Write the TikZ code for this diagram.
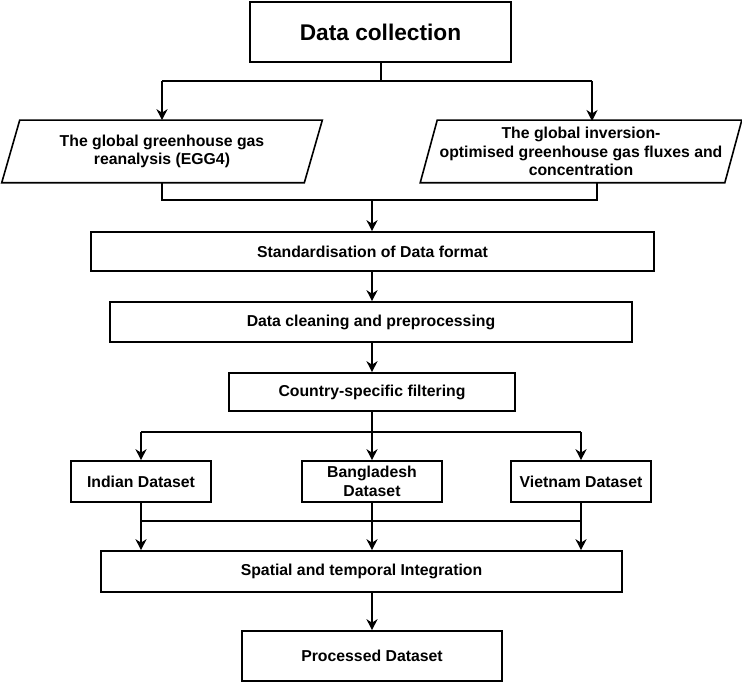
\documentclass[tikz,border=0pt]{standalone}
\usepackage{fontspec}
\setmainfont{Liberation Sans}
\usetikzlibrary{arrows.meta}
\begin{document}
\begin{tikzpicture}[x=1pt,y=-1pt, line width=1.6pt,
  box/.style={draw=black, line width=1.6pt, inner sep=0pt, align=center,
    font=\fontsize{15.8}{18.5}\selectfont\bfseries},
  para/.style={inner sep=0pt, align=center,
    font=\fontsize{15.8}{18.5}\selectfont\bfseries},
  pline/.style={line width=1.6pt, line join=miter},
  arr/.style={-{Stealth[length=11pt,width=11pt,inset=3.5pt]}, line width=1.6pt}
]
\useasboundingbox (0,0) rectangle (742,682);
% nodes
\node[box, minimum width=261pt, minimum height=60pt, font=\fontsize{22.7}{26}\selectfont\bfseries] (dc) at (380.5,32) {Data collection};
\node[para, minimum width=301pt, minimum height=61pt] (p1) at (162,151.5) {The global greenhouse gas\\reanalysis (EGG4)};
\draw[pline] ([xshift=9pt]p1.north west) -- ([xshift=9pt]p1.north east) -- ([xshift=-9pt]p1.south east) -- ([xshift=-9pt]p1.south west) -- cycle;
\node[para, minimum width=303pt, minimum height=61pt] (p2) at (581,151.5) {The global inversion-\\optimised greenhouse gas fluxes and\\concentration};
\draw[pline] ([xshift=8.5pt]p2.north west) -- ([xshift=8.5pt]p2.north east) -- ([xshift=-8.5pt]p2.south east) -- ([xshift=-8.5pt]p2.south west) -- cycle;
\node[box, minimum width=563pt, minimum height=39pt] (std) at (372.5,251.5) {Standardisation of Data format};
\node[box, minimum width=522pt, minimum height=40pt] (clean) at (371,322) {Data cleaning and preprocessing};
\node[box, minimum width=286pt, minimum height=38pt] (cty) at (372,392) {Country-specific filtering};
\node[box, minimum width=140pt, minimum height=41pt] (ind) at (141,481.5) {Indian Dataset};
\node[box, minimum width=140pt, minimum height=41pt] (bgd) at (372,481.5) {Bangladesh\\Dataset};
\node[box, minimum width=140pt, minimum height=41pt] (vnm) at (581,481.5) {Vietnam Dataset};
\node[box, minimum width=521pt, minimum height=41pt] (integ) at (361.5,571.5) {Spatial and temporal Integration};
\node[box, minimum width=260pt, minimum height=50pt] (proc) at (372,656) {Processed Dataset};
% junction coordinates
\coordinate (j1) at (381,81);
\coordinate (j2) at (372,200);
\coordinate (j3) at (372,432);
\coordinate (j4) at (0,521);
\coordinate (p2in) at (592,121);
\coordinate (p2out) at (597,182);
% connectors
\draw (j1 |- dc.south) -- (j1);
\draw (p1.north |- j1) -- (p2in |- j1);
\draw[arr] (p1.north |- j1) -- (p1.north);
\draw[arr] (p2in |- j1) -- (p2in);
\draw (p1.south) -- (p1.south |- j2) -- (p2out |- j2) -- (p2out);
\draw[arr] (j2) -- (j2 |- std.north);
\draw[arr] (j2 |- std.south) -- (j2 |- clean.north);
\draw[arr] (j2 |- clean.south) -- (j2 |- cty.north);
\draw (cty.south) -- (j3);
\draw (ind.north |- j3) -- (vnm.north |- j3);
\draw[arr] (ind.north |- j3) -- (ind.north);
\draw[arr] (j3) -- (bgd.north);
\draw[arr] (vnm.north |- j3) -- (vnm.north);
\draw[arr] (ind.south) -- (ind.south |- integ.north);
\draw[arr] (bgd.south) -- (bgd.south |- integ.north);
\draw[arr] (vnm.south) -- (vnm.south |- integ.north);
\draw (ind.south |- j4) -- (vnm.south |- j4);
\draw[arr] (proc.north |- integ.south) -- (proc.north);
\end{tikzpicture}
\end{document}
